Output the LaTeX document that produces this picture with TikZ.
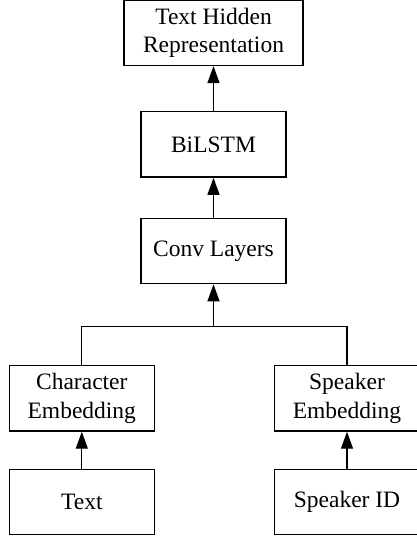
\documentclass[tikz,border=0pt]{standalone}
\usepackage{fontspec}
\setmainfont{Liberation Serif}
\usetikzlibrary{positioning, arrows.meta}

\begin{document}
\begin{tikzpicture}[
      x=1pt, y=-1pt,
      every node/.style={font=\fontsize{23.5}{28.3}\selectfont},
      block/.style={draw, minimum width=145pt, minimum height=65.3pt,
                    inner sep=0pt, align=center, line width=1.3pt},
      >={Triangle[length=17pt, width=12pt]},
    ]
    \useasboundingbox (0,0) rectangle (416,537);

    \node[block, minimum width=179pt] (thr)  at (213.5, 32.8)  {Text Hidden\\Representation};
    \node[block]                      (lstm) at (213.5, 144.5) {BiLSTM};
    \node[block]                      (conv) at (213.5, 251)   {Conv Layers};

    \node[block] (chr) at (81.8, 398.4)  {Character\\Embedding};
    \node[block] (spk) at (347, 398.4)   {Speaker\\Embedding};
    \node[block] (txt) at (81.8, 501.8)  {Text};
    \node[block] (sid) at (347, 501.8)   {Speaker ID};

    \coordinate (jn) at (213.5, 326.7);

    \draw[->, line width=1.3pt] (txt) -- (chr);
    \draw[->, line width=1.3pt] (sid) -- (spk);
    \draw[line width=1.3pt] (chr) |- (jn) -| (spk);
    \draw[->, line width=1.3pt] (jn) -- (conv);
    \draw[->, line width=1.3pt] (conv) -- (lstm);
    \draw[->, line width=1.3pt] (lstm) -- (thr);
  \end{tikzpicture}
\end{document}
